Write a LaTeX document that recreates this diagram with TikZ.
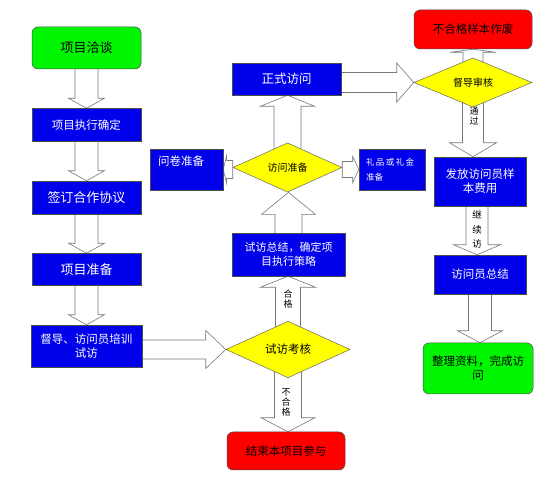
\documentclass[tikz,border=0pt]{standalone}
\usepackage{fontspec}
\newfontfamily\cjk{Noto Sans CJK SC}
\usepackage{tikz}
\usetikzlibrary{arrows.meta,positioning,shapes.geometric,calc,backgrounds}

\definecolor{boxblue}{RGB}{0,0,235}
\definecolor{boxgreen}{RGB}{0,245,0}
\definecolor{boxred}{RGB}{255,0,0}
\definecolor{boxyellow}{RGB}{255,255,0}
\definecolor{arrowgray}{RGB}{120,120,120}

% hollow block arrows: from, tip, half shaft, half head, head length
\newcommand{\varrow}[5]{%
  \draw[blockarrow] let \p1=#1, \p2=#2, \p3=($#2!#5!#1$) in
    (\x1-#3,\y1) -- (\x1-#3,\y3) -- (\x1-#4,\y3) -- (\x2,\y2)
    -- (\x1+#4,\y3) -- (\x1+#3,\y3) -- (\x1+#3,\y1) -- cycle;}
\newcommand{\harrow}[5]{%
  \draw[blockarrow] let \p1=#1, \p2=#2, \p3=($#2!#5!#1$) in
    (\x1,\y2-#3) -- (\x3,\y2-#3) -- (\x3,\y2-#4) -- (\x2,\y2)
    -- (\x3,\y2+#4) -- (\x3,\y2+#3) -- (\x1,\y2+#3) -- cycle;}

\begin{document}
\begin{tikzpicture}[
    x=1pt, y=-1pt,
    box/.style={rectangle, draw=black!70, line width=0.5pt, align=center, inner sep=2pt, fill=boxblue, text=white, font=\cjk\fontsize{11.5}{14}\selectfont},
    roundbox/.style={box, rounded corners=6pt, text=black},
    decision/.style={diamond, draw=black!60, line width=0.5pt, fill=boxyellow, inner sep=0pt, align=center, font=\cjk\fontsize{10}{12}\selectfont},
    blockarrow/.style={draw=arrowgray, fill=white, line width=0.6pt, line join=miter},
    arrowtext/.style={align=center, inner sep=0pt, font=\cjk\fontsize{9}{10}\selectfont},
    node distance=39pt
]
\useasboundingbox (0,0) rectangle (550,497);

% Left column
\node[roundbox, fill=boxgreen, minimum width=109pt, minimum height=42pt, font=\cjk\fontsize{13}{15}\selectfont] (qt) at (86.5,48) {项目洽谈};
\node[box, minimum width=109pt, minimum height=33pt, below=of qt] (zx) {项目执行确定};
\node[box, minimum width=109pt, minimum height=33pt, below=of zx, font=\cjk\fontsize{13}{15}\selectfont] (qd) {签订合作协议};
\node[box, minimum width=109pt, minimum height=32pt, below=of qd, font=\cjk\fontsize{13}{15}\selectfont] (zb) {项目准备};
\node[box, minimum width=111pt, minimum height=42pt, below=of zb] (px) {督导、访问员培训\\试访};

% Middle column
\node[decision, minimum width=124pt, minimum height=55pt, font=\cjk\fontsize{11.5}{14}\selectfont] (kh) at (288,349.5) {试访考核};
\node[box, minimum width=113pt, minimum height=43pt, font=\cjk\fontsize{11}{14}\selectfont] (zj) at (288.5,254.5) {试访总结，确定项\\目执行策略};
\node[decision, minimum width=109pt, minimum height=39pt] (zbei) at (287.5,167.5) {访问准备};
\node[box, minimum width=109pt, minimum height=32pt, font=\cjk\fontsize{12.5}{15}\selectfont] (zs) at (286.5,79) {正式访问};
\node[box, minimum height=41pt, align=left, inner xsep=8pt, text width=57pt] (wj) at (186.5,169.5) {问卷准备\\[4pt]\mbox{}};
\node[box, minimum height=41pt, align=left, inner xsep=7pt, text width=52pt, font=\cjk\fontsize{8.5}{15}\selectfont] (lp) at (392,169.5) {礼\,品\,或\,礼\,金\\准备};
\node[roundbox, fill=boxred, minimum width=118pt, minimum height=38pt] (js) at (286,451) {结束本项目参与};

% Right column
\node[roundbox, fill=boxred, minimum width=118pt, minimum height=39pt] (bhg) at (473,29.5) {不合格样本作废};
\node[decision, minimum width=118pt, minimum height=39pt] (dd) at (473,82.5) {督导审核};
\node[box, minimum width=92pt, minimum height=49pt] (ff) at (480,181.5) {发放访问员样\\本费用};
\node[box, minimum width=92pt, minimum height=39pt] (zongjie) at (480,274.5) {访问员总结};
\node[roundbox, fill=boxgreen, minimum width=110pt, minimum height=51pt] (zl) at (478,368.5) {整理资料，完成访\\问};
\coordinate (ffout) at ($(ff.center)+(-3,0)$);

% Labels in arrows
\node[arrowtext] (hg) at (288,299) {合\\格};
\node[arrowtext] (bhgt) at (286,402) {不\\合\\格};
\node[arrowtext] (tg) at (474,116) {通\\过};
\node[arrowtext, font=\cjk\fontsize{9.5}{14.5}\selectfont] (jxf) at (477,229.5) {继\\续\\访};

% Arrows
\begin{scope}[on background layer]
\varrow{(qt.center)}{(zx.north)}{11.5pt}{18pt}{10pt}
\varrow{(zx.center)}{(qd.north)}{11.5pt}{18pt}{10pt}
\varrow{(qd.center)}{(zb.north)}{11.5pt}{18pt}{10pt}
\varrow{(zb.center)}{(px.north)}{11.5pt}{18pt}{10pt}
\harrow{(px.center)}{(kh.west)}{9.5pt}{19pt}{20pt}
\varrow{(kh.center)}{(kh.center |- zj.south)}{12.5pt}{27.5pt}{11pt}
\varrow{(kh.center)}{(kh.center |- js.north)}{13.5pt}{27pt}{14pt}
\varrow{(zj.center)}{(zj.center |- zbei.south)}{13.5pt}{27pt}{22pt}
\varrow{(zbei.center)}{(zbei.center |- zs.south)}{13.5pt}{27pt}{11pt}
\harrow{(zbei.west)}{(wj.east)}{9pt}{14pt}{3.5pt}
\harrow{(zbei.east)}{(lp.west)}{8pt}{13pt}{6pt}
\harrow{(zs.center)}{(dd.west)}{10pt}{19.5pt}{17pt}
\varrow{(dd.center)}{(dd.center |- bhg.south)}{10pt}{23pt}{3pt}
\varrow{(dd.center)}{(dd.center |- ff.north)}{10.5pt}{23.5pt}{14pt}
\varrow{(ffout)}{(ffout |- zongjie.north)}{11pt}{23.5pt}{10pt}
\varrow{(zongjie.center)}{(zongjie.center |- zl.north)}{11.5pt}{22.5pt}{12pt}
\end{scope}

\end{tikzpicture}
\end{document}
